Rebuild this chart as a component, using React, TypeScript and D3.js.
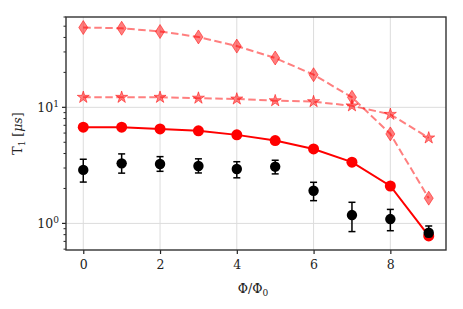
import { useEffect, useRef } from 'react';
import * as d3 from 'd3';

const flux = [0, 1, 2, 3, 4, 5, 6, 7, 8, 9];
const diamondT1 = [48.7, 48.0, 45.0, 40.4, 33.7, 26.6, 19.1, 12.2, 5.9, 1.65];
const starT1 = [12.2, 12.2, 12.2, 12.0, 11.8, 11.4, 11.2, 10.3, 8.7, 5.45];
const circleT1 = [6.74, 6.74, 6.52, 6.27, 5.79, 5.17, 4.38, 3.37, 2.1, 0.78];
const measT1 = [2.89, 3.29, 3.25, 3.12, 2.94, 3.08, 1.91, 1.18, 1.09, 0.83];
const measLo = [2.27, 2.71, 2.81, 2.72, 2.47, 2.67, 1.57, 0.85, 0.865, 0.77];
const measHi = [3.57, 3.97, 3.76, 3.6, 3.4, 3.5, 2.26, 1.52, 1.32, 0.95];
const xTicks = [0, 2, 4, 6, 8];

export default function App() {
  const svgRef = useRef<SVGSVGElement>(null);

  useEffect(() => {
    const svg = d3.select(svgRef.current);
    svg.selectAll('*').remove();

    const width = 463;
    const height = 309;
    const margin = { top: 17, right: 17, bottom: 59, left: 66 };
    const font = '"DejaVu Serif", serif';

    const x = d3.scaleLinear().domain([-0.45, 9.45]).range([margin.left, width - margin.right]);
    const y = d3.scaleLog().domain([0.59, 60]).range([height - margin.bottom, margin.top]);

    const left = margin.left;
    const right = width - margin.right;
    const top = margin.top;
    const bottom = height - margin.bottom;

    // Grid
    const grid = svg.append('g');
    grid
      .selectAll('.vx')
      .data(xTicks)
      .enter()
      .append('line')
      .attr('x1', (d) => x(d))
      .attr('x2', (d) => x(d))
      .attr('y1', top)
      .attr('y2', bottom)
      .attr('stroke', '#dcdcdc')
      .attr('stroke-width', 1);
    grid
      .selectAll('.hy')
      .data([1, 10])
      .enter()
      .append('line')
      .attr('x1', left)
      .attr('x2', right)
      .attr('y1', (d) => y(d))
      .attr('y2', (d) => y(d))
      .attr('stroke', '#dcdcdc')
      .attr('stroke-width', 1);

    const plot = svg.append('g');

    const lineGen = (vals: number[]) =>
      d3
        .line<number>()
        .x((_, i) => x(flux[i]))
        .y((d) => y(d))(vals);

    // Diamond series
    plot
      .append('path')
      .attr('d', lineGen(diamondT1))
      .attr('fill', 'none')
      .attr('stroke', 'rgba(255,0,0,0.5)')
      .attr('stroke-width', 2)
      .attr('stroke-dasharray', '7.5,3.5');
    const diamondPath = 'M0,-7 L4.5,0 L0,7 L-4.5,0 Z';
    plot
      .selectAll('.dia')
      .data(diamondT1)
      .enter()
      .append('path')
      .attr('d', diamondPath)
      .attr('transform', (d, i) => `translate(${x(flux[i])},${y(d)})`)
      .attr('fill', 'rgba(255,0,0,0.5)')
      .attr('stroke', 'rgba(255,0,0,0.5)')
      .attr('stroke-width', 1);

    // Star series
    plot
      .append('path')
      .attr('d', lineGen(starT1))
      .attr('fill', 'none')
      .attr('stroke', 'rgba(255,0,0,0.5)')
      .attr('stroke-width', 2)
      .attr('stroke-dasharray', '7.5,3.5');
    const star = d3.symbol().type(d3.symbolStar).size(45)();
    plot
      .selectAll('.star')
      .data(starT1)
      .enter()
      .append('path')
      .attr('d', star)
      .attr('transform', (d, i) => `translate(${x(flux[i])},${y(d)})`)
      .attr('fill', 'rgba(255,0,0,0.5)')
      .attr('stroke', 'rgba(255,0,0,0.5)')
      .attr('stroke-width', 1);

    // Solid circle series
    plot
      .append('path')
      .attr('d', lineGen(circleT1))
      .attr('fill', 'none')
      .attr('stroke', '#ff0000')
      .attr('stroke-width', 2);
    plot
      .selectAll('.circ')
      .data(circleT1)
      .enter()
      .append('circle')
      .attr('cx', (_, i) => x(flux[i]))
      .attr('cy', (d) => y(d))
      .attr('r', 5.5)
      .attr('fill', '#ff0000');

    // Measured points with error bars
    const meas = plot
      .selectAll('.meas')
      .data(measT1)
      .enter()
      .append('g');
    meas
      .append('line')
      .attr('x1', (_, i) => x(flux[i]))
      .attr('x2', (_, i) => x(flux[i]))
      .attr('y1', (_, i) => y(measLo[i]))
      .attr('y2', (_, i) => y(measHi[i]))
      .attr('stroke', '#000')
      .attr('stroke-width', 1.5);
    [measLo, measHi].forEach((arr) => {
      meas
        .append('line')
        .attr('x1', (_, i) => x(flux[i]) - 3.5)
        .attr('x2', (_, i) => x(flux[i]) + 3.5)
        .attr('y1', (_, i) => y(arr[i]))
        .attr('y2', (_, i) => y(arr[i]))
        .attr('stroke', '#000')
        .attr('stroke-width', 1.5);
    });
    meas
      .append('circle')
      .attr('cx', (_, i) => x(flux[i]))
      .attr('cy', (d) => y(d))
      .attr('r', 5.2)
      .attr('fill', '#000');

    // X axis
    const xAxis = svg
      .append('g')
      .attr('transform', `translate(0,${bottom})`)
      .call(d3.axisBottom(x).tickValues(xTicks).tickSize(4).tickPadding(6).tickFormat(d3.format('d')));
    xAxis.select('.domain').remove();
    xAxis.selectAll('line').attr('stroke', '#222').attr('stroke-width', 1.2);
    xAxis
      .selectAll('text')
      .attr('fill', '#222')
      .style('font-family', font)
      .style('font-size', '12.5px');

    // Y axis ticks
    const minor: number[] = [];
    [0.1, 1, 10].forEach((dec) => {
      for (let k = 2; k <= 9; k++) {
        const v = k * dec;
        if (v >= 0.59 && v <= 60) minor.push(v);
      }
    });
    const yAx = svg.append('g');
    yAx
      .selectAll('.minor')
      .data(minor)
      .enter()
      .append('line')
      .attr('x1', left - 2.5)
      .attr('x2', left)
      .attr('y1', (d) => y(d))
      .attr('y2', (d) => y(d))
      .attr('stroke', '#222')
      .attr('stroke-width', 1);
    const majors = yAx
      .selectAll('.major')
      .data([1, 10])
      .enter()
      .append('g');
    majors
      .append('line')
      .attr('x1', left - 4)
      .attr('x2', left)
      .attr('y1', (d) => y(d))
      .attr('y2', (d) => y(d))
      .attr('stroke', '#222')
      .attr('stroke-width', 1.2);
    const lbl = majors
      .append('text')
      .attr('x', left - 7)
      .attr('y', (d) => y(d) + 5)
      .attr('text-anchor', 'end')
      .attr('fill', '#222')
      .style('font-family', font)
      .style('font-size', '12.5px');
    lbl.append('tspan').text('10');
    lbl
      .append('tspan')
      .attr('dy', -5)
      .style('font-size', '9px')
      .text((d) => (d === 1 ? '0' : '1'));

    // Frame
    svg
      .append('rect')
      .attr('x', left)
      .attr('y', top)
      .attr('width', right - left)
      .attr('height', bottom - top)
      .attr('fill', 'none')
      .attr('stroke', '#333')
      .attr('stroke-width', 1.4);

    // Axis labels
    const xl = svg
      .append('text')
      .attr('x', (left + right) / 2 - 3)
      .attr('y', 293)
      .attr('text-anchor', 'middle')
      .attr('fill', '#222')
      .style('font-family', font)
      .style('font-size', '12.5px');
    xl.append('tspan').text('Φ/Φ');
    xl.append('tspan').attr('dy', 3).style('font-size', '9px').text('0');

    const yl = svg
      .append('text')
      .attr('transform', `translate(22,${(top + bottom) / 2}) rotate(-90)`)
      .attr('text-anchor', 'middle')
      .attr('fill', '#222')
      .style('font-family', font)
      .style('font-size', '12.5px');
    yl.append('tspan').text('T');
    yl.append('tspan').attr('dy', 3).style('font-size', '9px').text('1');
    yl.append('tspan').attr('dy', -3).text(' [');
    yl.append('tspan').style('font-style', 'italic').text('μs');
    yl.append('tspan').text(']');
  }, []);

  return <svg ref={svgRef} width={463} height={309} style={{ position: 'absolute', left: 0, top: 0 }} />;
}
